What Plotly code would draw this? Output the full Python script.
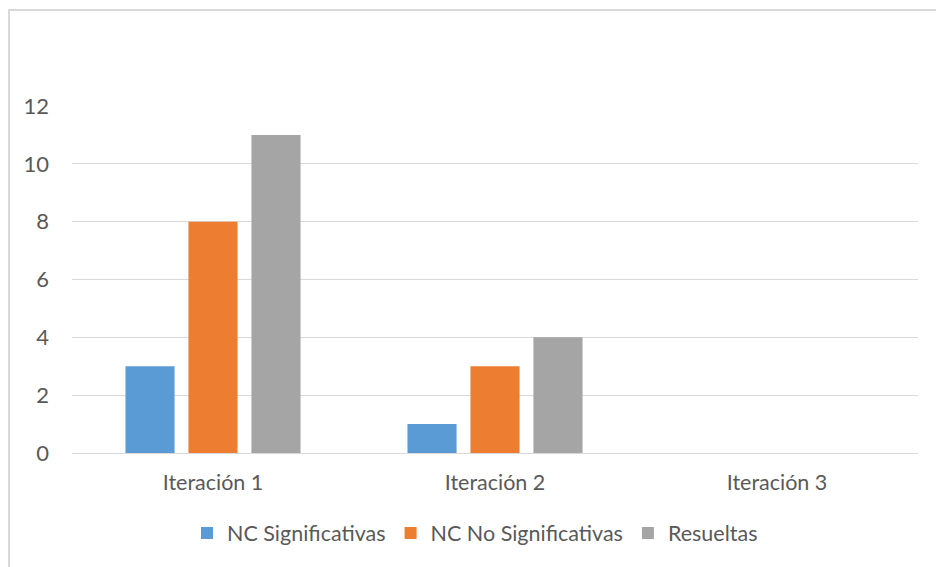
import plotly.graph_objects as go

categories = ["Iteración 1", "Iteración 2", "Iteración 3"]
nc_significativas = [3, 1, 0]
nc_no_significativas = [8, 3, 0]
resueltas = [11, 4, 0]
y_ticks = [0, 2, 4, 6, 8, 10, 12]

W, H = 936, 567
L, R, T, B = 72, 18, 106, 114
plot_w = W - L - R
plot_h = H - T - B

FONT = "Lato"
TEXT = "#595959"
GRID = "#D9D9D9"

fig = go.Figure()
fig.add_bar(x=categories, y=nc_significativas, name="NC Significativas",
            marker=dict(color="#5B9BD5", line_width=0))
fig.add_bar(x=categories, y=nc_no_significativas, name="NC No Significativas",
            marker=dict(color="#ED7D31", line_width=0))
fig.add_bar(x=categories, y=resueltas, name="Resueltas",
            marker=dict(color="#A5A5A5", line_width=0))

# outer chart frame (only top and left edges fall inside the page)
fig.add_shape(type="rect", xref="paper", yref="paper",
              x0=(9 - L) / plot_w, x1=(W + 20 - L) / plot_w,
              y0=-(H + 20 - T - plot_h) / plot_h, y1=1 + (T - 10) / plot_h,
              line=dict(color=GRID, width=2), fillcolor="rgba(0,0,0,0)", layer="below")

fig.update_layout(
    width=W, height=H,
    margin=dict(l=L, r=R, t=T, b=B, pad=0),
    paper_bgcolor="white", plot_bgcolor="white",
    barmode="group", bargap=0.33, bargroupgap=0.22,
    font=dict(family=FONT, size=21.5, color=TEXT),
    showlegend=True,
    legend=dict(orientation="h", x=(475 - L) / plot_w, xanchor="center",
                y=-(533 - T - plot_h) / plot_h, yanchor="middle",
                font=dict(size=21.5, color=TEXT), itemwidth=30,
                bgcolor="rgba(0,0,0,0)"),
    xaxis=dict(showgrid=False, showline=False, ticks="", zeroline=False,
               tickfont=dict(size=21.5, color=TEXT), ticklabelstandoff=14),
    yaxis=dict(range=[0, 12], tickvals=y_ticks, showgrid=True, gridcolor=GRID,
               gridwidth=1, zeroline=True, zerolinecolor=GRID, zerolinewidth=1,
               showline=False, ticks="", tickfont=dict(size=22, color=TEXT),
               ticklabelstandoff=22),
)

fig.write_html("out.html")
